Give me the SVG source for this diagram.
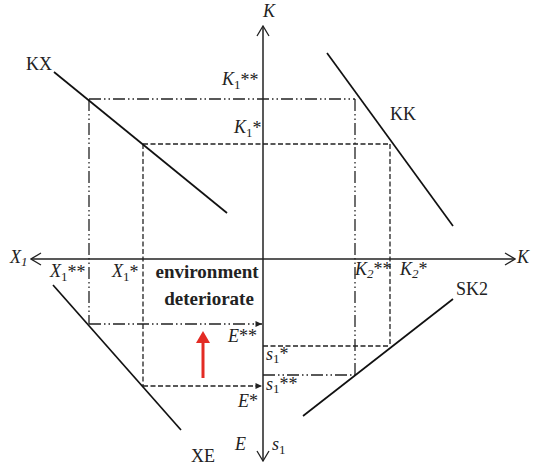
<svg xmlns="http://www.w3.org/2000/svg" width="533" height="467" viewBox="0 0 533 467">
<style>
.lab{font-family:"Liberation Serif","Times New Roman",serif;font-size:18px;fill:#222}
.it{font-style:italic}
.sub{font-size:13px}
.star{font-size:18px}
.bold{font-weight:bold;font-size:19px;text-anchor:middle}
.axis{stroke:#222;stroke-width:1.5;fill:none}
.curve{stroke:#111;stroke-width:1.7;fill:none}
.dd{stroke:#222;stroke-width:1.3;fill:none;stroke-dasharray:12 3 1.5 3 1.5 3}
.ds{stroke:#222;stroke-width:1.3;fill:none;stroke-dasharray:5 2.5}
</style>
<defs>
<marker id="open" viewBox="-11 -7 12 14" refX="0" refY="0" markerWidth="12" markerHeight="14" markerUnits="userSpaceOnUse" orient="auto-start-reverse">
<path d="M-10,-6 L0,0 L-10,6" fill="none" stroke="#222" stroke-width="1.3"/>
</marker>
<marker id="tri" viewBox="-7 -3.5 8 7" refX="0" refY="0" markerWidth="8" markerHeight="7" markerUnits="userSpaceOnUse" orient="auto">
<path d="M-6.5,-3 L0,0 L-6.5,3Z" fill="#222"/>
</marker>
</defs>
<rect width="533" height="467" fill="#fff"/>

<g id="connectors">
<path class="dd" d="M89,99 H355"/>
<path class="dd" d="M89,99 V324"/>
<path class="dd" d="M89,324 H262" marker-end="url(#tri)"/>
<path class="dd" d="M355,99 V375"/>
<path class="dd" d="M263,375 H355"/>
<path class="ds" d="M143,144 H390"/>
<path class="ds" d="M143,144 V386"/>
<path class="ds" d="M143,386 H262" marker-end="url(#tri)"/>
<path class="ds" d="M390,144 V346"/>
<path class="ds" d="M263,346 H390"/>
</g>

<g id="axes">
<path class="axis" d="M31,259 H515" marker-start="url(#open)" marker-end="url(#open)"/>
<path class="axis" d="M263,26 V461" marker-start="url(#open)" marker-end="url(#open)"/>
</g>

<g id="KX"><path class="curve" d="M54,72 L227,213"/><text class="lab" x="26" y="70">KX</text></g>
<g id="KK"><path class="curve" d="M327,53 L453,226"/><text class="lab" x="390" y="120">KK</text></g>
<g id="XE"><path class="curve" d="M53,285 L181,430"/><text class="lab" x="191" y="462">XE</text></g>
<g id="SK2"><path class="curve" d="M303,416 L453,299"/><text class="lab" x="456" y="295">SK2</text></g>

<g id="shift">
<path d="M203,378 V342" stroke="#e32b24" stroke-width="3" fill="none"/>
<path d="M196,343 L203,331 L210,343Z" fill="#e32b24"/>
<text class="lab bold" x="207" y="278">environment</text>
<text class="lab bold" x="209" y="305">deteriorate</text>
</g>

<g id="labels">
<text class="lab it" x="263" y="17">K</text>
<text class="lab it" x="517" y="263">K</text>
<text class="lab it" x="10" y="263">X<tspan class="sub" dy="3">1</tspan></text>
<text class="lab" x="222" y="85"><tspan class="it">K</tspan><tspan class="sub" dy="4">1</tspan><tspan class="star" dy="-3">**</tspan></text>
<text class="lab" x="234" y="133"><tspan class="it">K</tspan><tspan class="sub" dy="4">1</tspan><tspan class="star" dy="-3">*</tspan></text>
<text class="lab" x="50" y="277"><tspan class="it">X</tspan><tspan class="sub" dy="4">1</tspan><tspan class="star" dy="-3">**</tspan></text>
<text class="lab" x="112" y="277"><tspan class="it">X</tspan><tspan class="sub" dy="4">1</tspan><tspan class="star" dy="-3">*</tspan></text>
<text class="lab" x="355" y="275"><tspan class="it">K</tspan><tspan class="sub it" dy="3">2</tspan><tspan class="star" dy="-3">**</tspan></text>
<text class="lab" x="400" y="275"><tspan class="it">K</tspan><tspan class="sub it" dy="3">2</tspan><tspan class="star" dy="-3">*</tspan></text>
<text class="lab" x="228" y="342"><tspan class="it">E</tspan><tspan class="star">**</tspan></text>
<text class="lab" x="238" y="407"><tspan class="it">E</tspan><tspan class="star">*</tspan></text>
<text class="lab it" x="235" y="450">E</text>
<text class="lab" x="266" y="360"><tspan class="it">s</tspan><tspan class="sub" dy="3">1</tspan><tspan class="star" dy="-3">*</tspan></text>
<text class="lab" x="266" y="390"><tspan class="it">s</tspan><tspan class="sub" dy="3">1</tspan><tspan class="star" dy="-3">**</tspan></text>
<text class="lab" x="272" y="450"><tspan class="it">s</tspan><tspan class="sub" dy="4">1</tspan></text>
</g>
</svg>
